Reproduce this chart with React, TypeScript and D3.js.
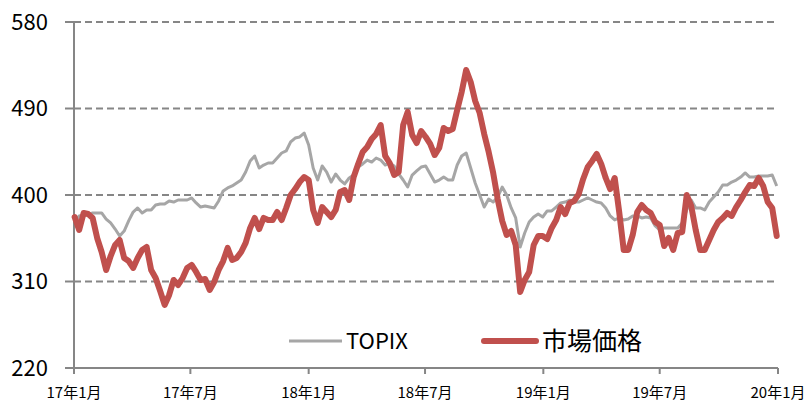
import React from 'react'
import * as d3 from 'd3'

// weekly closes, first week of Jan 2017 through end of Dec 2019
const startDate = new Date(2017, 0, 2)

const marketPrice = [
  377.1, 363.6, 381.3, 380.2, 376.1, 355.3, 340.7, 322.0, 336.5, 348.0,
  353.2, 334.5, 331.3, 324.1, 334.5, 342.8, 345.9, 322.0, 313.6, 300.1,
  285.6, 296.0, 311.6, 306.4, 313.6, 324.1, 327.2, 319.9, 311.6, 312.6,
  301.2, 309.5, 322.0, 331.3, 344.9, 332.4, 334.5, 340.7, 350.1, 365.7,
  376.1, 364.6, 376.1, 374.0, 374.0, 382.3, 374.0, 386.5, 400.0, 406.2,
  413.5, 418.7, 415.6, 384.4, 370.9, 387.5, 382.3, 377.1, 384.4, 403.1,
  405.2, 394.8, 418.7, 432.3, 444.7, 449.9, 458.3, 463.5, 472.8, 440.6,
  433.3, 420.8, 423.9, 472.8, 486.4, 462.4, 454.1, 466.6, 460.4, 453.1,
  441.6, 448.9, 469.7, 466.6, 468.7, 488.4, 507.2, 530.1, 517.6, 497.8,
  485.3, 463.5, 444.7, 422.9, 395.8, 373.0, 358.4, 362.5, 348.0, 299.1,
  311.6, 319.9, 348.0, 357.3, 357.3, 354.2, 365.7, 374.0, 387.5, 380.2,
  391.7, 393.8, 401.0, 416.7, 429.1, 435.4, 442.7, 432.3, 417.7, 406.2,
  417.7, 382.3, 342.8, 342.8, 358.4, 382.3, 389.6, 384.4, 381.3, 371.9,
  368.8, 346.9, 355.3, 342.8, 360.5, 361.5, 400.0, 388.6, 363.6, 342.8,
  342.8, 353.2, 363.6, 371.9, 376.1, 381.3, 378.2, 387.5, 394.8, 403.1,
  410.4, 409.4, 417.7, 409.4, 392.7, 386.5, 357.3
]

const topix = [
  371.9, 378.2, 379.2, 379.2, 381.3, 381.3, 381.3, 375.0, 370.9, 364.6,
  357.3, 362.5, 373.0, 382.3, 386.5, 381.3, 384.4, 384.4, 389.6, 390.6,
  390.6, 393.8, 392.7, 394.8, 394.8, 394.8, 396.9, 391.7, 387.5, 388.6,
  387.5, 386.5, 393.8, 404.2, 407.3, 409.4, 412.5, 415.6, 423.9, 435.4,
  440.6, 428.1, 431.2, 433.3, 433.3, 438.5, 443.7, 445.8, 455.2, 459.3,
  460.4, 464.5, 452.0, 428.1, 415.6, 430.2, 423.9, 413.5, 421.9, 415.6,
  411.5, 417.7, 420.8, 429.1, 432.3, 436.4, 434.3, 438.5, 436.4, 431.2,
  433.3, 430.2, 421.9, 415.6, 408.3, 420.8, 425.0, 429.1, 430.2, 421.9,
  413.5, 415.6, 418.7, 415.6, 415.6, 431.2, 440.6, 443.7, 428.1, 412.5,
  400.0, 387.5, 395.8, 392.7, 397.9, 408.3, 400.0, 386.5, 376.1, 345.9,
  360.5, 371.9, 377.1, 380.2, 377.1, 383.4, 383.4, 387.5, 391.7, 392.7,
  394.8, 392.7, 392.7, 394.8, 396.9, 394.8, 392.7, 391.7, 386.5, 378.2,
  374.0, 376.1, 374.0, 375.0, 378.2, 378.2, 376.1, 377.1, 376.1, 367.8,
  363.6, 365.7, 365.7, 365.7, 365.7, 370.9, 384.4, 394.8, 386.5, 386.5,
  384.4, 392.7, 397.9, 403.1, 410.4, 410.4, 413.5, 415.6, 418.7, 422.9,
  418.7, 418.7, 419.8, 419.8, 419.8, 420.8, 409.4
]

const yTicks = [220, 310, 400, 490, 580]
const seriesNames = ['TOPIX', '市場価格']

const width = 806
const height = 403
const left = 74
const right = 778
const top = 22
const bottom = 368

const font = '"Noto Sans CJK JP", "Noto Sans", sans-serif'
const axisColor = '#868686'
const redColor = '#C0504D'
const grayColor = '#A6A6A6'

const dateAt = i => d3.timeDay.offset(startDate, i * 7)

const App = () => {
  const x = d3
    .scaleTime()
    .domain([new Date(2017, 0, 1), new Date(2020, 0, 1)])
    .range([left, right])
  const y = d3.scaleLinear().domain([220, 580]).range([bottom, top])

  const line = d3
    .line<number>()
    .x((d, i) => x(dateAt(i)))
    .y(d => y(d))

  const xTicks = x.ticks(d3.timeMonth.every(6))
  const fmt = (d: Date) => `${String(d.getFullYear()).slice(2)}年${d.getMonth() + 1}月`

  return (
    <svg
      width={width}
      height={height}
      style={{ position: 'absolute', left: 0, top: 0, background: '#fff' }}
    >
      {yTicks.slice(1).map(t => (
        <line
          key={'g' + t}
          x1={left}
          x2={right}
          y1={y(t)}
          y2={y(t)}
          stroke={axisColor}
          strokeWidth={2}
          strokeDasharray="7,4"
        />
      ))}
      {yTicks.map(t => (
        <g key={'y' + t}>
          <line x1={left - 9} x2={left} y1={y(t)} y2={y(t)} stroke={axisColor} strokeWidth={2} />
          <text
            x={48}
            y={y(t)}
            dy="0.36em"
            textAnchor="end"
            fontFamily={font}
            fontSize={22}
            fill="#000"
          >
            {t}
          </text>
        </g>
      ))}
      <line x1={left} x2={left} y1={top} y2={bottom} stroke={axisColor} strokeWidth={2} />
      <line x1={left} x2={right} y1={bottom} y2={bottom} stroke={axisColor} strokeWidth={2} />
      {xTicks.map(t => (
        <g key={'x' + t.getTime()}>
          <line x1={x(t)} x2={x(t)} y1={bottom} y2={bottom + 6} stroke={axisColor} strokeWidth={2} />
          <text
            x={x(t)}
            y={398}
            textAnchor="middle"
            fontFamily={font}
            fontSize={15}
            fill="#000"
          >
            {fmt(t)}
          </text>
        </g>
      ))}
      <path
        d={line(topix) || ''}
        fill="none"
        stroke={grayColor}
        strokeWidth={3}
        strokeLinejoin="round"
      />
      <path
        d={line(marketPrice) || ''}
        fill="none"
        stroke={redColor}
        strokeWidth={6}
        strokeLinejoin="round"
        strokeLinecap="round"
      />
      <g fontFamily={font} fill="#000">
        <line x1={289} x2={342} y1={341} y2={341} stroke={grayColor} strokeWidth={3} />
        <text x={346} y={341} dy="0.36em" fontSize={22}>
          {seriesNames[0]}
        </text>
        <line
          x1={484}
          x2={536}
          y1={341}
          y2={341}
          stroke={redColor}
          strokeWidth={6}
          strokeLinecap="round"
        />
        <text x={542} y={341} dy="0.36em" fontSize={25}>
          {seriesNames[1]}
        </text>
      </g>
    </svg>
  )
}

export default App
